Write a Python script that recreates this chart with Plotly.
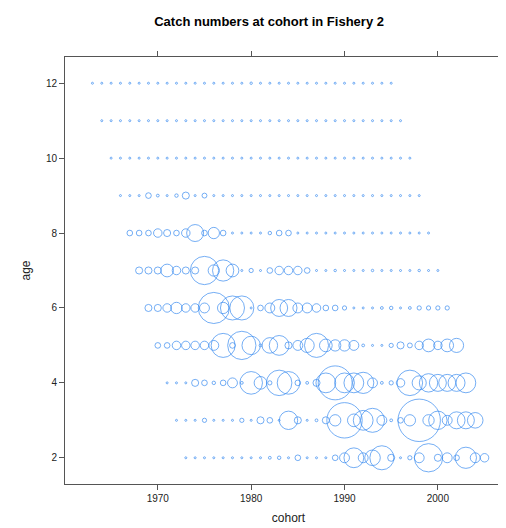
import plotly.graph_objects as go

# catch years; cohort = year - age
years = list(range(1975, 2008))
ages = [2, 3, 4, 5, 6, 7, 8, 9, 10, 11, 12]

# catch numbers (thousands) by age, ordered by cohort
catch_age2 = [2, 2, 2, 2, 2, 2, 2, 2, 2, 4, 6, 2, 16, 2, 2, 2, 16, 49, 196, 49, 121, 289, 25, 2, 9, 49, 400, 25, 49, 16, 225, 49, 36]
catch_age3 = [2, 2, 2, 9, 2, 2, 2, 9, 2, 25, 16, 2, 169, 25, 2, 4, 25, 64, 625, 81, 196, 289, 49, 4, 16, 64, 900, 64, 169, 49, 144, 144, 121]
catch_age4 = [2, 2, 2, 25, 16, 6, 16, 49, 4, 256, 81, 9, 324, 256, 16, 4, 25, 196, 576, 196, 196, 225, 49, 4, 9, 36, 324, 100, 169, 144, 144, 144, 196]
catch_age5 = [16, 16, 36, 36, 36, 36, 49, 289, 16, 400, 169, 4, 121, 196, 25, 49, 100, 289, 81, 64, 64, 49, 4, 2, 2, 9, 25, 12, 36, 81, 36, 81, 100]
catch_age6 = [25, 25, 36, 64, 36, 36, 49, 484, 64, 289, 289, 2, 16, 49, 144, 144, 49, 49, 36, 16, 16, 9, 2, 2, 2, 4, 6, 2, 4, 9, 9, 9, 9]
catch_age7 = [25, 25, 25, 81, 36, 25, 25, 400, 64, 225, 81, 2, 9, 2, 16, 36, 36, 36, 16, 2, 2, 3, 2, 2, 2, 3, 2, 2, 2, 2, 3, 2, 2]
catch_age8 = [16, 16, 16, 36, 25, 16, 36, 144, 16, 64, 16, 2, 2, 2, 2, 6, 16, 16, 2, 2, 2, 2, 2, 2, 2, 2, 2, 2, 2, 2, 2, 2, 2]
catch_age9 = [2, 2, 2, 16, 4, 2, 6, 25, 2, 12, 2, 2, 2, 2, 2, 2, 2, 2, 2, 2, 2, 2, 2, 2, 2, 2, 2, 2, 2, 2, 2, 2, 2]
catch_age10 = [2, 2, 2, 2, 2, 2, 2, 2, 2, 2, 2, 2, 2, 2, 2, 2, 2, 2, 2, 2, 2, 2, 2, 2, 2, 2, 2, 2, 2, 2, 2, 2, 2]
catch_age11 = [2, 2, 2, 2, 2, 2, 2, 2, 2, 2, 2, 2, 2, 2, 2, 2, 2, 2, 2, 2, 2, 2, 2, 2, 2, 2, 2, 2, 2, 2, 2, 2, 2]
catch_age12 = [2, 2, 2, 2, 2, 2, 2, 2, 2, 2, 2, 2, 2, 2, 2, 2, 2, 3, 2, 2, 2, 2, 2, 2, 2, 2, 2, 2, 2, 2, 2, 2, 2]

catches = [catch_age2, catch_age3, catch_age4, catch_age5, catch_age6, catch_age7,
           catch_age8, catch_age9, catch_age10, catch_age11, catch_age12]

fig = go.Figure()

for age, vals in zip(ages, catches):
    fig.add_trace(
        go.Scatter(
            x=[y - age for y in years],
            y=[age] * len(years),
            mode="markers",
            marker=dict(
                symbol="circle-open",
                size=vals,
                sizemode="area",
                sizeref=1,
                color="#3a8cf0",
                line=dict(width=1, color="#3a8cf0"),
            ),
            showlegend=False,
            hoverinfo="skip",
        )
    )

axis_font = dict(family="Liberation Sans, Arial, sans-serif", size=10, color="#222")

fig.update_layout(
    width=506,
    height=528,
    margin=dict(l=57, r=2, t=49, b=52),
    paper_bgcolor="white",
    plot_bgcolor="white",
    font=dict(family="Liberation Sans, Arial, sans-serif", color="#222"),
    title=dict(
        text="<b>Catch numbers at cohort in Fishery 2</b>",
        x=0.516,
        xanchor="center",
        y=0.974,
        yanchor="middle",
        font=dict(size=13, color="black"),
    ),
    xaxis=dict(
        range=[1960.06, 2007.94],
        tickvals=[1970, 1980, 1990, 2000],
        ticks="outside",
        ticklen=5,
        tickcolor="#555",
        showline=True,
        linecolor="#555",
        linewidth=1,
        mirror="ticks",
        showgrid=False,
        zeroline=False,
        automargin=False,
        tickfont=axis_font,
        title=dict(text="cohort", font=dict(size=12, color="#222"), standoff=10),
    ),
    yaxis=dict(
        range=[1.3, 12.7],
        tickvals=[2, 4, 6, 8, 10, 12],
        ticks="outside",
        ticklen=5,
        tickcolor="#555",
        showline=True,
        linecolor="#555",
        linewidth=1,
        mirror=True,
        showgrid=False,
        zeroline=False,
        automargin=False,
        tickfont=axis_font,
        title=dict(text="age", font=dict(size=12, color="#222"), standoff=12),
    ),
)

fig.write_html("out.html")
